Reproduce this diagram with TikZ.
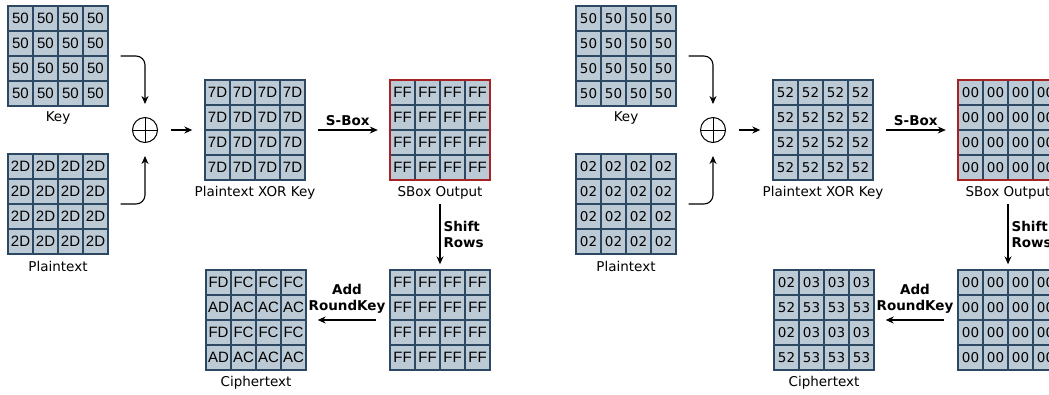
\documentclass[tikz,border=0pt]{standalone}
\usepackage{fontspec}
\setmainfont{DejaVu Sans}
\newfontfamily\arialfont{Liberation Sans}
\usetikzlibrary{arrows.meta}
\definecolor{cellfill}{RGB}{188,202,214}
\definecolor{cellline}{RGB}{44,72,99}
\definecolor{boxred}{RGB}{165,35,35}
\tikzset{
  cell/.style={draw=cellline, fill=cellfill, line width=1.2pt, minimum size=25pt, inner sep=0pt, font=\fontsize{13.5}{16}\selectfont},
  gridbox/.style={draw=cellline, line width=1.4pt, minimum size=100pt, inner sep=0pt},
  redbox/.style={draw=boxred, line width=2.4pt, minimum size=100pt, inner sep=0pt},
  lbl/.style={font=\fontsize{13.5}{16}\selectfont, inner sep=0pt},
  opl/.style={font=\fontsize{13.5}{16}\selectfont\bfseries, inner sep=0pt},
  oplus/.style={circle, draw, line width=1pt, minimum size=25pt, inner sep=0pt},
  arr/.style={-{Stealth[length=8pt,width=7pt]}, line width=1.1pt},
}
\newcommand\leftcell[1]{{\arialfont\fontsize{15}{17}\selectfont #1}}
\newcommand\rightcell[1]{{\fontsize{13.5}{16}\selectfont #1}}
% name, x, y, font command, rows, box style
\newcommand\drawgrid[6]{%
  \foreach \row [count=\i] in {#5} {
    \foreach \v [count=\j] in \row {
      \node[cell] (#1-\i-\j) at ({#2+12.5+25*(\j-1)},{#3+12.5+25*(\i-1)}) {#4{\v}};
    }
  }
  \node[#6] (#1) at ({#2+50},{#3+50}) {};
}
% prefix, offset, font, key, plaintext, xor, sbox, shifted, cipher
\newcommand\half[9]{%
  \drawgrid{#1k}{8+#2}{6}{#3}{#4}{gridbox}
  \drawgrid{#1p}{8+#2}{154}{#3}{#5}{gridbox}
  \drawgrid{#1x}{205+#2}{80}{#3}{#6}{gridbox}
  \drawgrid{#1s}{390+#2}{80}{#3}{#7}{redbox}
  \drawgrid{#1r}{390+#2}{270}{#3}{#8}{gridbox}
  \drawgrid{#1c}{206+#2}{270}{#3}{#9}{gridbox}
  \node[lbl] (#1kl) at (58+#2,118) {Key};
  \node[lbl] (#1pl) at (58+#2,266) {Plaintext};
  \node[lbl] (#1xl) at (255+#2,193) {Plaintext XOR Key};
  \node[lbl] (#1sl) at (440+#2,193) {SBox Output};
  \node[lbl] (#1cl) at (256+#2,383) {Ciphertext};
  \node[oplus] (#1o) at (145+#2,130) {};
  \draw[line width=1pt] (#1o.north) -- (#1o.south) (#1o.west) -- (#1o.east);
  \draw[arr, rounded corners=9pt] ([xshift=12pt]#1k.east) -| ([yshift=13pt]#1o.north);
  \draw[arr, rounded corners=9pt] ([xshift=12pt]#1p.east) -| ([yshift=-13pt]#1o.south);
  \draw[arr] ([xshift=13pt]#1o.east) -- ([xshift=-12pt]#1x.west);
  \draw[arr] ([xshift=12pt]#1x.east) -- node[opl, midway, above=4pt] {S-Box} ([xshift=-11pt]#1s.west);
  \draw[arr] ([yshift=-23pt]#1s.south) -- node[opl, midway, right=3pt, align=left] {Shift\\Rows} ([yshift=5pt]#1r.north);
  \draw[arr] ([xshift=-13pt]#1r.west) -- node[opl, midway, above=6pt, align=center] {Add\\RoundKey} ([xshift=11pt]#1c.east);
}
\begin{document}
\begin{tikzpicture}[x=1pt, y=-1pt]
\useasboundingbox (0,0) rectangle (1049,394);
\clip (0,0) rectangle (1049,394);
\half{L}{0}{\leftcell}
  {{50,50,50,50},{50,50,50,50},{50,50,50,50},{50,50,50,50}}
  {{2D,2D,2D,2D},{2D,2D,2D,2D},{2D,2D,2D,2D},{2D,2D,2D,2D}}
  {{7D,7D,7D,7D},{7D,7D,7D,7D},{7D,7D,7D,7D},{7D,7D,7D,7D}}
  {{FF,FF,FF,FF},{FF,FF,FF,FF},{FF,FF,FF,FF},{FF,FF,FF,FF}}
  {{FF,FF,FF,FF},{FF,FF,FF,FF},{FF,FF,FF,FF},{FF,FF,FF,FF}}
  {{FD,FC,FC,FC},{AD,AC,AC,AC},{FD,FC,FC,FC},{AD,AC,AC,AC}}
\half{R}{568}{\rightcell}
  {{50,50,50,50},{50,50,50,50},{50,50,50,50},{50,50,50,50}}
  {{02,02,02,02},{02,02,02,02},{02,02,02,02},{02,02,02,02}}
  {{52,52,52,52},{52,52,52,52},{52,52,52,52},{52,52,52,52}}
  {{00,00,00,00},{00,00,00,00},{00,00,00,00},{00,00,00,00}}
  {{00,00,00,00},{00,00,00,00},{00,00,00,00},{00,00,00,00}}
  {{02,03,03,03},{52,53,53,53},{02,03,03,03},{52,53,53,53}}
\end{tikzpicture}
\end{document}
